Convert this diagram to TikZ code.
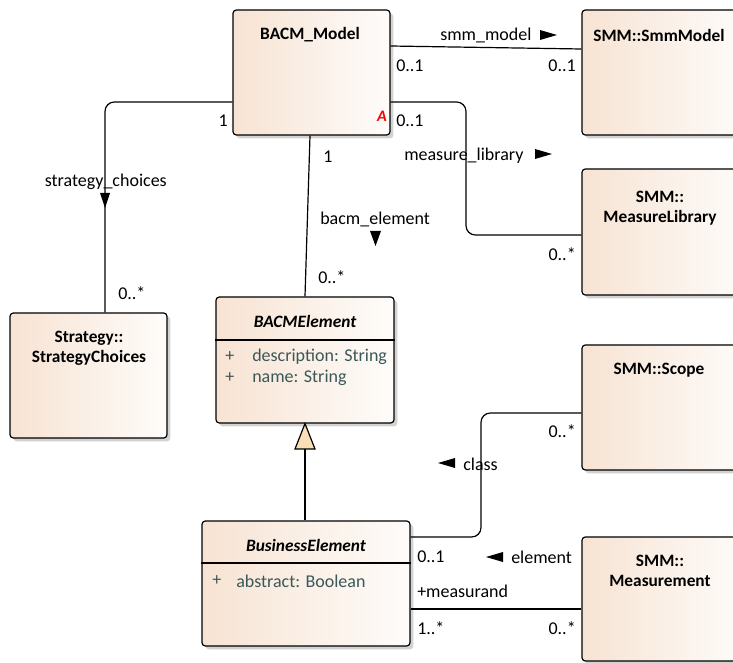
\documentclass[tikz,border=0pt]{standalone}
\usepackage{fontspec}
\setmainfont{Carlito}
\usetikzlibrary{shadows,fit}

\definecolor{fillL}{RGB}{247,227,211}
\definecolor{fillR}{RGB}{254,252,250}
\definecolor{attrcol}{RGB}{58,88,88}
\definecolor{genfill}{RGB}{250,222,182}

\tikzset{
  umlbox/.style={draw=black, line width=0.9pt, rounded corners=2.5pt,
    left color=fillL, right color=fillR, inner sep=0pt,
    drop shadow={shadow xshift=2.5pt, shadow yshift=-2.5pt, opacity=0.25, fill=black!70}},
  title/.style={font=\bfseries\fontsize{13}{15}\selectfont, align=center, inner sep=0pt},
  ititle/.style={title, font=\bfseries\itshape\fontsize{13}{15}\selectfont},
  attr/.style={font=\fontsize{13.5}{15}\selectfont, text=attrcol, anchor=west, inner sep=0pt},
  lbl/.style={font=\fontsize{13.5}{15}\selectfont, anchor=west, inner sep=0pt},
  conn/.style={draw=black, line width=0.9pt},
  sep/.style={draw=black, line width=0.9pt},
  navtri/.style={fill=black},
}

\begin{document}
\begin{tikzpicture}[x=0.75pt, y=-0.75pt]
\useasboundingbox (0,0) rectangle (733,663);
\clip (0,0) rectangle (733,663);

% ---------- classes ----------
\node[umlbox, fit={(233,10) (390,135)}] (BM) {};
\node[umlbox, fit={(582,10) (745,135)}] (SM) {};
\node[umlbox, fit={(582,169) (745,295)}] (ML) {};
\node[umlbox, fit={(10,313) (167,438)}] (SC) {};
\node[umlbox, fit={(216,297) (394,423)}] (BE) {};
\node[umlbox, fit={(582,345) (745,470)}] (SP) {};
\node[umlbox, fit={(202,521) (410,646)}] (BUS) {};
\node[umlbox, fit={(582,537) (745,661)}] (MS) {};

% compartment separators
\draw[sep] (BE.west |- 0,340) -- (BE.east |- 0,340);
\draw[sep] (BUS.west |- 0,563) -- (BUS.east |- 0,563);

% ---------- class names and attributes ----------
\node[title] (tBM) at (310,35) {BACM\_Model};
\node[font=\bfseries\itshape\fontsize{12}{14}\selectfont, text=red, inner sep=0pt] (abs) at (382,116) {A};
\node[title] (tSM) at (659,35) {SMM::SmmModel};
\node[title] (tML) at (660,208) {SMM::\\MeasureLibrary};
\node[title] (tSC) at (89,348) {Strategy::\\StrategyChoices};
\node[ititle] (tBE) at (305,321) {BACMElement};
\node[attr] (bePlus1) at (225,357) {+};
\node[attr] (beAttr1) at (252,357) {description: String};
\node[attr] (bePlus2) at (225,378) {+};
\node[attr] (beAttr2) at (252,378) {name: String};
\node[title] (tSP) at (659,370) {SMM::Scope};
\node[ititle] (tBUS) at (306,545) {BusinessElement};
\node[attr] (busPlus) at (212,581) {+};
\node[attr] (busAttr) at (236,581) {abstract: Boolean};
\node[title] (tMS) at (660,571) {SMM::\\Measurement};

% ---------- associations ----------
% smm_model
\draw[conn] (BM.east |- 0,46) -- (SM.west |- 0,49);
\node[lbl] (lSmm) at (440,35) {smm\_model};
\fill[navtri] (540,30) -- (557,35) -- (540,40) -- cycle;
\node[lbl] (mSmm1) at (396,66) {0..1};
\node[lbl, anchor=east] (mSmm2) at (576,66) {0..1};

% measure_library
\draw[conn, rounded corners=7pt] (BM.east |- 0,102) -- (466,102) -- (466,235) -- (ML.west |- 0,235);
\node[lbl] (lMl) at (404,156) {measure\_library};
\fill[navtri] (535,149) -- (552,154) -- (535,159) -- cycle;
\node[lbl] (mMl1) at (396,121) {0..1};
\node[lbl, anchor=east] (mMl2) at (576,254) {0..*};

% strategy_choices
\draw[conn, rounded corners=7pt] (BM.west |- 0,102) -- (105,102) -- (SC.north -| 105,0);
\fill[navtri] (100,193) -- (110,193) -- (105,208) -- cycle;
\node[lbl, anchor=east] (lSt) at (167,182) {strategy\_choices};
\node[lbl, anchor=east] (mSt1) at (228,121) {1};
\node[lbl] (mSt2) at (118,293) {0..*};

% bacm_element
\draw[conn] (BM.south -| 310,0) -- (BE.north -| 305,0);
\node[lbl] (lBe) at (320,219) {bacm\_element};
\fill[navtri] (370,231) -- (381,231) -- (375.5,246) -- cycle;
\node[lbl] (mBe1) at (323,157) {1};
\node[lbl] (mBe2) at (318,277) {0..*};

% generalization
\draw[conn] (BUS.north -| 305,0) -- (305,449);
\filldraw[conn, fill=genfill, line join=miter] (295,449) -- (315,449) -- (BE.south -| 305,0) -- cycle;

% class (scope)
\draw[conn, rounded corners=7pt] (BUS.east |- 0,537) -- (481,537) -- (481,413) -- (SP.west |- 0,413);
\fill[navtri] (455,458) -- (438,463) -- (455,468) -- cycle;
\node[lbl] (lCl) at (463,464) {class};
\node[lbl] (mCl1) at (417,557) {0..1};
\node[lbl, anchor=east] (mCl2) at (576,431) {0..*};

% element / measurand
\draw[conn] (BUS.east |- 0,609) -- (MS.west |- 0,609);
\fill[navtri] (503,552) -- (486,557) -- (503,562) -- cycle;
\node[lbl] (lEl) at (511,557) {element};
\node[lbl] (rMeas) at (417,591) {+measurand};
\node[lbl] (mEl1) at (417,628) {1..*};
\node[lbl, anchor=east] (mEl2) at (576,628) {0..*};
\end{tikzpicture}
\end{document}
